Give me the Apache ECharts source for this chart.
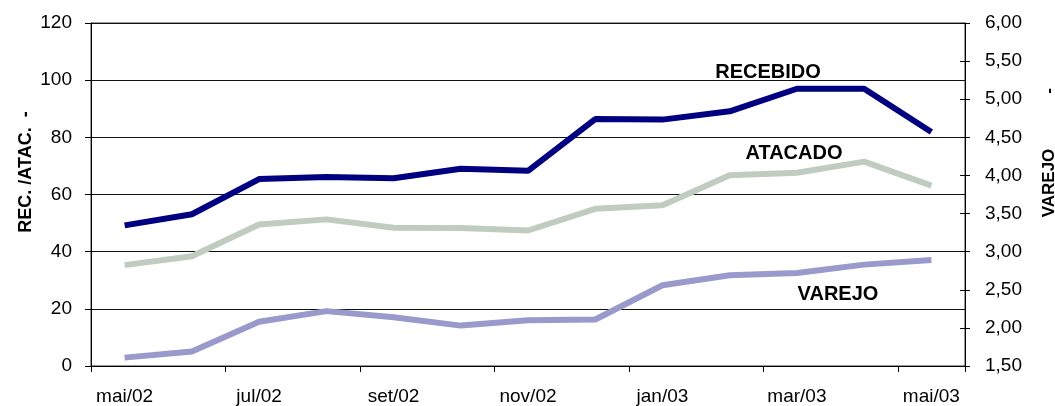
<!DOCTYPE html>
<html>
<head>
<meta charset="utf-8">
<script src="https://cdn.jsdelivr.net/npm/echarts@6/dist/echarts.min.js"></script>
<style>
html,body{margin:0;padding:0;background:#fff;}
#c{width:1055px;height:406px;}
</style>
</head>
<body>
<div id="c"></div>
<script>
var categories = ['mai/02','jun/02','jul/02','ago/02','set/02','out/02','nov/02','dez/02','jan/03','fev/03','mar/03','abr/03','mai/03'];
var recebido = [49.2, 53.1, 65.4, 66.1, 65.7, 69.0, 68.3, 86.4, 86.2, 89.1, 97.0, 97.0, 81.9];
var atacado  = [35.3, 38.4, 49.5, 51.3, 48.4, 48.3, 47.4, 55.0, 56.2, 66.7, 67.6, 71.5, 63.1];
var varejo   = [1.61, 1.69, 2.08, 2.22, 2.14, 2.03, 2.10, 2.11, 2.56, 2.69, 2.72, 2.83, 2.89];
var leftName = 'REC. /ATAC.  -';
var rightName = 'VAREJO';

var FONT = 'Liberation Sans, Arial, sans-serif';
var chart = echarts.init(document.getElementById('c'), null, {renderer:'canvas'});
function commaFmt(v){ return v.toFixed(2).replace('.', ','); }

var option = {
  animation: false,
  backgroundColor: '#fff',
  grid: {left: 91, right: 90, top: 23, bottom: 40, show: true, borderColor: '#333', borderWidth: 1, backgroundColor: 'transparent'},
  xAxis: {
    type: 'category', data: categories, boundaryGap: true,
    axisLine: {lineStyle: {color: '#000', width: 1}},
    axisTick: {show: true, interval: 1, length: 6, lineStyle: {color: '#000'}},
    axisLabel: {interval: 1, color: '#000', fontSize: 19, fontFamily: FONT, margin: 21}
  },
  yAxis: [
    {
      type: 'value', min: 0, max: 120, interval: 20, position: 'left',
      axisLine: {show: true, lineStyle: {color: '#000'}},
      axisTick: {show: true, length: 6, lineStyle: {color: '#000'}},
      axisLabel: {color: '#000', fontSize: 19, fontFamily: FONT, margin: 19},
      splitLine: {show: true, lineStyle: {color: '#111', width: 1}}
    },
    {
      type: 'value', min: 1.5, max: 6, interval: 0.5, position: 'right',
      axisLine: {show: true, lineStyle: {color: '#000'}},
      axisTick: {show: true, length: 5, lineStyle: {color: '#000'}},
      axisLabel: {color: '#000', fontSize: 19, fontFamily: FONT, margin: 20, formatter: commaFmt},
      splitLine: {show: false}
    },
    {
      type: 'value', min: 1.5, max: 6, interval: 0.5, position: 'right',
      axisLine: {show: false},
      axisTick: {show: true, inside: true, length: 5, lineStyle: {color: '#000'}},
      axisLabel: {show: false},
      splitLine: {show: false}
    }
  ],
  series: [
    {name: 'RECEBIDO', type: 'line', yAxisIndex: 0, data: recebido, showSymbol: false, symbol: 'none',
     lineStyle: {color: '#000080', width: 6, join: 'bevel'}, z: 5},
    {name: 'ATACADO', type: 'line', yAxisIndex: 0, data: atacado, showSymbol: false, symbol: 'none',
     lineStyle: {color: '#c0ccc0', width: 6, join: 'bevel'}, z: 4},
    {name: 'VAREJO', type: 'line', yAxisIndex: 1, data: varejo, showSymbol: false, symbol: 'none',
     lineStyle: {color: '#9999cc', width: 6, join: 'bevel'}, z: 3}
  ],
  graphic: [
    {type: 'text', x: 768, y: 72, z: 10, style: {text: 'RECEBIDO', fill: '#000', font: 'bold 20px ' + FONT, align: 'center', verticalAlign: 'middle'}},
    {type: 'text', x: 794, y: 153, z: 10, style: {text: 'ATACADO', fill: '#000', font: 'bold 20px ' + FONT, align: 'center', verticalAlign: 'middle'}},
    {type: 'text', x: 838, y: 294, z: 10, style: {text: 'VAREJO', fill: '#000', font: 'bold 20px ' + FONT, align: 'center', verticalAlign: 'middle'}},
    {type: 'text', x: 26, y: 172, rotation: Math.PI/2, style: {text: leftName, fill: '#000', font: 'bold 18px ' + FONT, align: 'center', verticalAlign: 'middle'}},
    {type: 'text', x: 1049, y: 183, rotation: Math.PI/2, style: {text: rightName, fill: '#000', font: 'bold 17px ' + FONT, align: 'center', verticalAlign: 'middle'}},
    {type: 'text', x: 1049, y: 91, rotation: Math.PI/2, style: {text: '-', fill: '#000', font: 'bold 17px ' + FONT, align: 'center', verticalAlign: 'middle'}}
  ]
};
chart.setOption(option);
</script>
</body>
</html>
